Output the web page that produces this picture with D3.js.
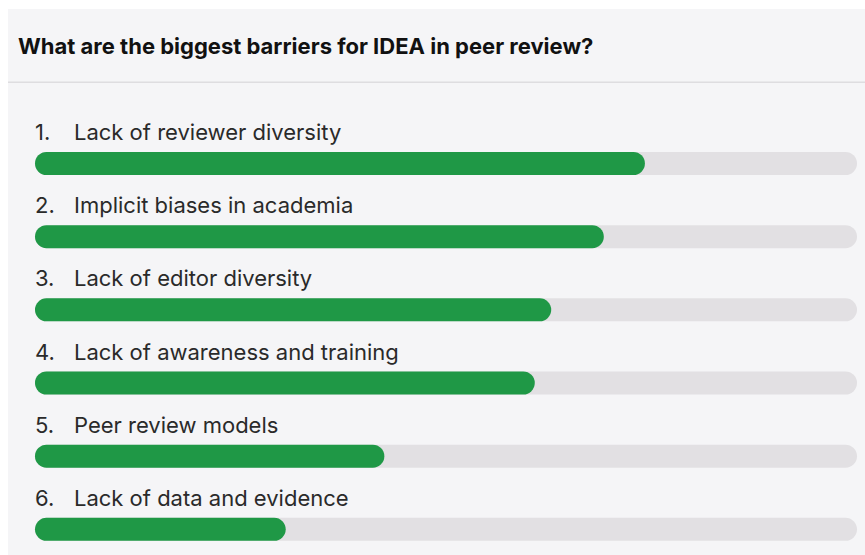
<!DOCTYPE html>
<html>
<head>
<meta charset="utf-8">
<script src="https://cdn.jsdelivr.net/npm/d3@7"></script>
<style>
  body { margin: 0; background: #fff; }
</style>
</head>
<body>
<svg id="chart" width="865" height="555"></svg>
<script>
var title = 'What are the biggest barriers for IDEA in peer review?'
var barriers = [
  'Lack of reviewer diversity',
  'Implicit biases in academia',
  'Lack of editor diversity',
  'Lack of awareness and training',
  'Peer review models',
  'Lack of data and evidence'
]
var shares = [74.2, 69.2, 62.8, 60.8, 42.5, 30.5]

var svg = d3.select('#chart')
var font = 'Inter, "Noto Sans", sans-serif'

// panel
svg.append('rect').attr('x', 8).attr('y', 9).attr('width', 857).attr('height', 546)
  .attr('fill', '#f5f5f7')
svg.append('rect').attr('x', 8).attr('y', 81.5).attr('width', 857).attr('height', 1.5)
  .attr('fill', '#dedde0')

svg.append('text')
  .attr('x', 18).attr('y', 54)
  .attr('font-family', font).attr('font-weight', 700).attr('font-size', 22)
  .attr('fill', '#111')
  .text(title)

var x = d3.scaleLinear().domain([0, 100]).range([35, 857])
var y = d3.scaleBand().domain(d3.range(barriers.length)).range([114, 553]).paddingInner(0)

var rows = svg.selectAll('g.row').data(barriers).enter().append('g')
  .attr('class', 'row')
  .attr('transform', function (d, i) { return 'translate(0,' + y(i) + ')' })

rows.append('text')
  .attr('x', 35).attr('y', 26)
  .attr('font-family', font).attr('font-size', 22)
  .attr('fill', '#2a2a2a')
  .text(function (d, i) { return (i + 1) + '.' })

rows.append('text')
  .attr('x', 74).attr('y', 26)
  .attr('font-family', font).attr('font-size', 22)
  .attr('fill', '#2a2a2a')
  .text(function (d) { return d })

var barH = 23
rows.append('rect')
  .attr('x', x(0)).attr('y', 38)
  .attr('width', x(100) - x(0)).attr('height', barH)
  .attr('rx', barH / 2)
  .attr('fill', '#e2e0e3')

rows.append('rect')
  .attr('x', x(0)).attr('y', 38)
  .attr('width', function (d, i) { return x(shares[i]) - x(0) })
  .attr('height', barH)
  .attr('rx', barH / 2)
  .attr('fill', '#1f9846')
</script>
</body>
</html>
